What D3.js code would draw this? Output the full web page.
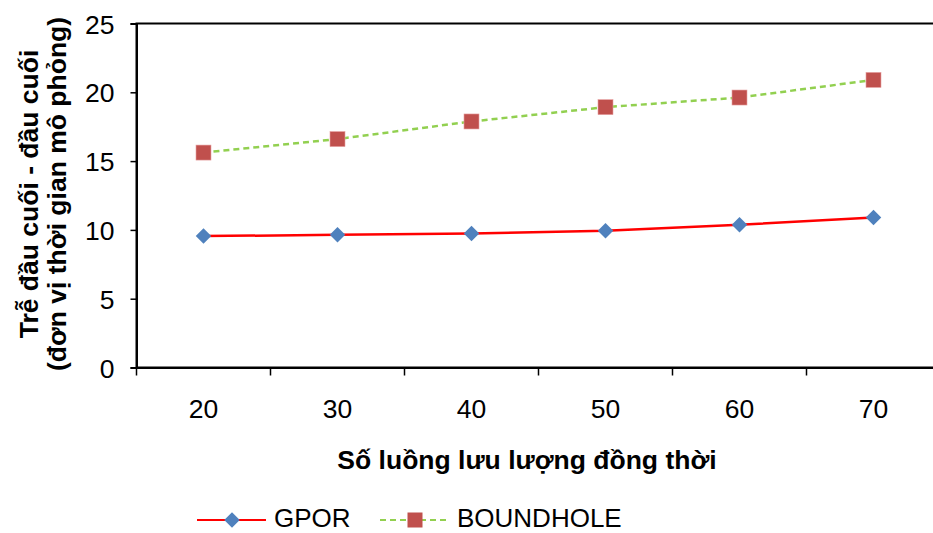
<!DOCTYPE html>
<html><head><meta charset="utf-8">
<script src="https://cdn.jsdelivr.net/npm/d3@7"></script>
<style>
html,body{margin:0;padding:0;background:#fff;overflow:hidden;}
text{font-family:Arial,"Liberation Sans",sans-serif;fill:#000;}
</style></head>
<body>
<svg id="chart" width="933" height="533"></svg>
<script>
const categories = ["20","30","40","50","60","70"];
const gporValues = [9.55, 9.64, 9.74, 9.93, 10.37, 10.9];
const boundholeValues = [15.62, 16.6, 17.88, 18.92, 19.62, 20.9];
const yTicks = [0,5,10,15,20,25];
const seriesNames = ["GPOR","BOUNDHOLE"];
const xTitle = "Số luồng lưu lượng đồng thời";
const yTitle1 = "Trễ đầu cuối - đầu cuối";
const yTitle2 = "(đơn vị thời gian mô phỏng)";

const svg = d3.select("#chart");
const L = 136.5, R = 940.5, T = 23.5, B = 367.5;
const x = d3.scaleBand().domain(categories).range([L, R]);
const y = d3.scaleLinear().domain([0,25]).range([B, T]);

// plot border
svg.append("rect").attr("x", L).attr("y", T).attr("width", R-L).attr("height", B-T)
  .attr("fill","none").attr("stroke","#000").attr("stroke-width",2);

// y axis
const yAxis = svg.append("g").attr("transform",`translate(${L},0)`)
  .call(d3.axisLeft(y).tickValues(yTicks).tickSize(6).tickPadding(16).tickFormat(d3.format("d")));
yAxis.select(".domain").attr("stroke","#000").attr("stroke-width",2);
yAxis.selectAll(".tick line").attr("stroke","#000").attr("stroke-width",1.5);
yAxis.selectAll("text").style("font-size","26.5px").attr("font-family",null).attr("dy","0.36em");

// x axis with ticks at band boundaries
const xAxis = svg.append("g").attr("transform",`translate(0,${B})`)
  .call(d3.axisBottom(x).tickSize(0).tickPadding(31));
xAxis.select(".domain").attr("stroke","#000").attr("stroke-width",2);
xAxis.selectAll("text").style("font-size","26.5px").attr("font-family",null).attr("y",50).attr("dy",0);
const bounds = categories.map(c => x(c));
svg.append("g").selectAll("line").data(bounds).join("line")
  .attr("x1", d=>d).attr("x2", d=>d).attr("y1", B).attr("y2", B+8)
  .attr("stroke","#000").attr("stroke-width",1.5);

const cx = c => x(c) + x.bandwidth()/2;
const line = d3.line().x((d,i)=>cx(categories[i])).y(d=>y(d));

// BOUNDHOLE
svg.append("path").datum(boundholeValues).attr("d", line)
  .attr("fill","none").attr("stroke","#92D050").attr("stroke-width",2.5).attr("stroke-dasharray","6,4");
// GPOR
svg.append("path").datum(gporValues).attr("d", line)
  .attr("fill","none").attr("stroke","#FF0000").attr("stroke-width",2.5);

const diamond = d3.symbol().type(d3.symbolSquare).size(120);
svg.append("g").selectAll("path").data(gporValues).join("path")
  .attr("d", diamond())
  .attr("transform",(d,i)=>`translate(${cx(categories[i])},${y(d)}) rotate(45)`)
  .attr("fill","#4F81BD");
svg.append("g").selectAll("rect").data(boundholeValues).join("rect")
  .attr("x",(d,i)=>cx(categories[i])-7.5).attr("y",d=>y(d)-7.5)
  .attr("width",15).attr("height",15).attr("fill","#C0504D").attr("stroke","#E6A0A0").attr("stroke-width",0.6);

// axis titles
svg.append("text").attr("x",527).attr("y",469).attr("text-anchor","middle")
  .style("font-size","26.5px").style("font-weight","bold").text(xTitle);
const yt = svg.append("text").attr("transform","translate(38,194) rotate(-90)")
  .attr("text-anchor","middle").style("font-size","26.5px").style("font-weight","bold");
yt.append("tspan").attr("x",0).attr("dy",0).text(yTitle1);
yt.append("tspan").attr("x",0).attr("dy",28).text(yTitle2);

// legend
const lg = svg.append("g");
const ly = 520;
lg.append("line").attr("x1",197).attr("x2",266).attr("y1",ly).attr("y2",ly)
  .attr("stroke","#FF0000").attr("stroke-width",2);
lg.append("path").attr("d",diamond()).attr("transform",`translate(232,${ly}) rotate(45)`).attr("fill","#4F81BD");
lg.append("text").attr("x",274).attr("y",527).style("font-size","26px").text(seriesNames[0]);
lg.append("line").attr("x1",380).attr("x2",448).attr("y1",ly).attr("y2",ly)
  .attr("stroke","#92D050").attr("stroke-width",2).attr("stroke-dasharray","6,4");
lg.append("rect").attr("x",415-7.5).attr("y",ly-7.5).attr("width",15).attr("height",15).attr("fill","#C0504D");
lg.append("text").attr("x",457).attr("y",527).style("font-size","26px").text(seriesNames[1]);
</script>
</body></html>
